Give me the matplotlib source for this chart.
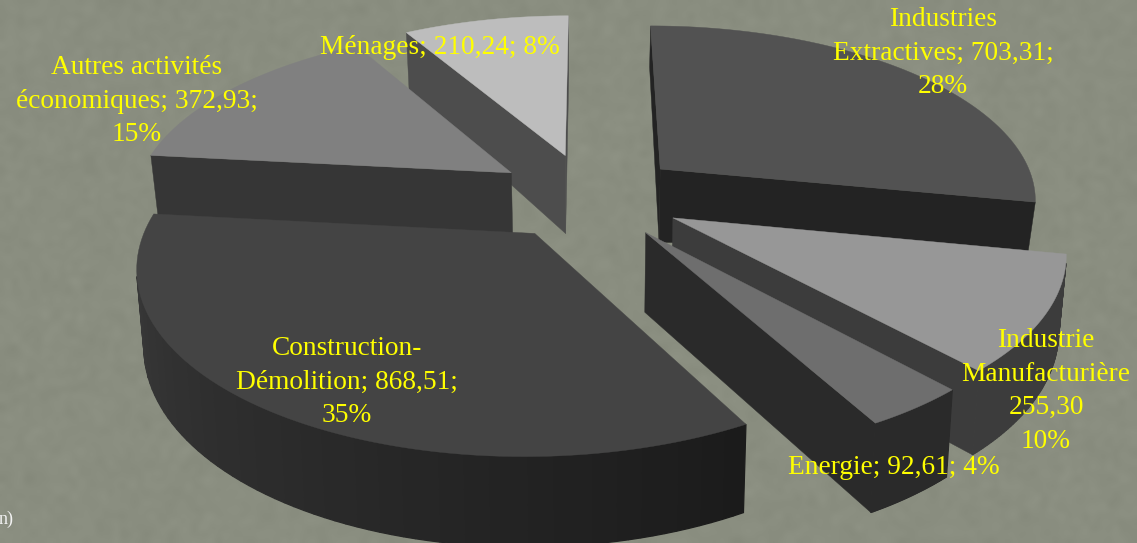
"""Exploded 3D pie of tonnages per sector, drawn by projecting each slice onto the canvas."""
import matplotlib
matplotlib.use("Agg")
import matplotlib.pyplot as plt
from matplotlib.colors import to_rgb
from matplotlib.patches import Polygon
import numpy as np

# data
sectors = ["Industries\nExtractives", "Industrie\nManufacturière", "Energie",
           "Construction-\nDémolition", "Autres activités\néconomiques", "Ménages"]
tonnages = [703.31, 255.30, 92.61, 868.51, 372.93, 210.24]

# style per slice
top_colors = ["#525252", "#979797", "#6e6e6e", "#444444", "#808080", "#bdbdbd"]
cut_colors = ["#232323", "#3c3c3c", "#2a2a2a", "#262626", "#363636", "#4d4d4d"]
rim_start = ["#242424", "#3c3c3c", "#2a2a2a", "#1b1b1b", "#363636", "#4d4d4d"]
rim_end = ["#222222", "#3c3c3c", "#2a2a2a", "#3c3c3c", "#363636", "#4d4d4d"]
thickness = [75, 74, 77, 73, 62, 81]
taper = [0.35, 0.02, 0.04, 0.0, 0.0, 0.12]
draw_order = [5, 4, 3, 0, 1, 2]

# camera
CX, CY = 589, 196
SX, SY = 378, 174
PERSP = 0.16
SINK = 0.016  # lower face narrows slightly towards the centre
EXPLODE = 0.25
BG = "#8a8e80"
YELLOW = "#ffff00"


def project(px, py):
    w = 1 + PERSP * py
    return CX + SX * px / w, CY - SY * py / w, w


def lower(x):
    return CX + (x - CX) * (1 - SINK)


def slice_rings(start, end):
    """Outline of a slice in the pie plane, angles clockwise from the top."""
    mid = (start + end) / 2
    ax0, ay0 = EXPLODE * np.sin(mid), EXPLODE * np.cos(mid)
    ang = np.linspace(start, end, 80)
    return ax0, ay0, ax0 + np.sin(ang), ay0 + np.cos(ang)


def mix(c1, c2, t):
    return tuple((1 - t) * a + t * b for a, b in zip(to_rgb(c1), to_rgb(c2)))


def signed_area(pts):
    x, y = pts[:, 0], pts[:, 1]
    return 0.5 * np.sum(x * np.roll(y, -1) - y * np.roll(x, -1))


def draw_slice(ax, idx, start, end):
    ax0, ay0, rx, ry = slice_rings(start, end)
    h, k = thickness[idx], taper[idx]

    apex_x, apex_y, apex_w = project(ax0, ay0)
    apex_top = (apex_x, apex_y)
    apex_low = (lower(apex_x), apex_y + h / apex_w)
    xs, ys, ws = project(rx, ry)
    rim_top = np.column_stack([xs, ys])
    rim_low = np.column_stack([lower(xs), ys + h * (1 - k) / ws])

    # cut faces, only those turned towards the viewer (y axis points down)
    faces = [[apex_top, rim_top[0], rim_low[0], apex_low],
             [rim_top[-1], apex_top, apex_low, rim_low[-1]]]
    for quad in faces:
        quad = np.array(quad)
        if signed_area(quad) < 0:
            ax.add_patch(Polygon(quad, closed=True, fc=cut_colors[idx],
                                 ec=cut_colors[idx], lw=0.3, zorder=2))

    # outer wall, shaded along the arc
    for j in range(len(xs) - 1):
        quad = np.array([rim_top[j], rim_top[j + 1], rim_low[j + 1], rim_low[j]])
        if signed_area(quad) < 0:
            col = mix(rim_start[idx], rim_end[idx], j / (len(xs) - 2))
            ax.add_patch(Polygon(quad, closed=True, fc=col, ec=col, lw=0.9, zorder=2))

    outline = np.vstack([apex_top, rim_top])
    ax.add_patch(Polygon(outline, closed=True, fc=top_colors[idx],
                         ec=top_colors[idx], lw=0.3, zorder=2))


fig = plt.figure(figsize=(11.37, 5.43), dpi=100)
ax = fig.add_axes([0, 0, 1, 1])
ax.set_xlim(0, 1137)
ax.set_ylim(543, 0)
ax.axis("off")

# mottled paper backdrop
rng = np.random.default_rng(7)
mottle = rng.normal(0, 0.009, (90, 190))
base = np.array(to_rgb(BG))
ax.imshow(np.clip(base + mottle[..., None], 0, 1), extent=(0, 1137, 543, 0),
          aspect="auto", interpolation="bicubic", zorder=0)

values = np.array(tonnages)
edges = np.concatenate([[0], np.cumsum(values)]) / values.sum() * 2 * np.pi
for i in draw_order:
    draw_slice(ax, i, edges[i], edges[i + 1])

# data labels
share = values / values.sum() * 100


def fmt(v):
    return f"{v:.2f}".replace(".", ",")


label_text = [
    f"{sectors[0]}; {fmt(tonnages[0])};\n{share[0]:.0f}%",
    f"{sectors[1]}\n{fmt(tonnages[1])}\n{share[1]:.0f}%",
    f"{sectors[2]}; {fmt(tonnages[2])}; {share[2]:.0f}%",
    f"{sectors[3]}; {fmt(tonnages[3])};\n{share[3]:.0f}%",
    f"{sectors[4]}; {fmt(tonnages[4])};\n{share[4]:.0f}%",
    f"{sectors[5]}; {fmt(tonnages[5])}; {share[5]:.0f}%",
]
label_pos = [(943, 53), (1046, 391), (894, 467), (347, 382), (137, 101), (440, 48)]
for text, (lx, ly) in zip(label_text, label_pos):
    ax.text(lx, ly, text, color=YELLOW, family="Liberation Serif", fontsize=19.7,
            ha="center", va="center", linespacing=1.46, zorder=5)

ax.text(-1, 519, "n)", color="#f2f2f2", family="Liberation Serif", fontsize=13,
        ha="left", va="center", zorder=5)

fig.savefig("out.png", dpi=100)
plt.close(fig)
